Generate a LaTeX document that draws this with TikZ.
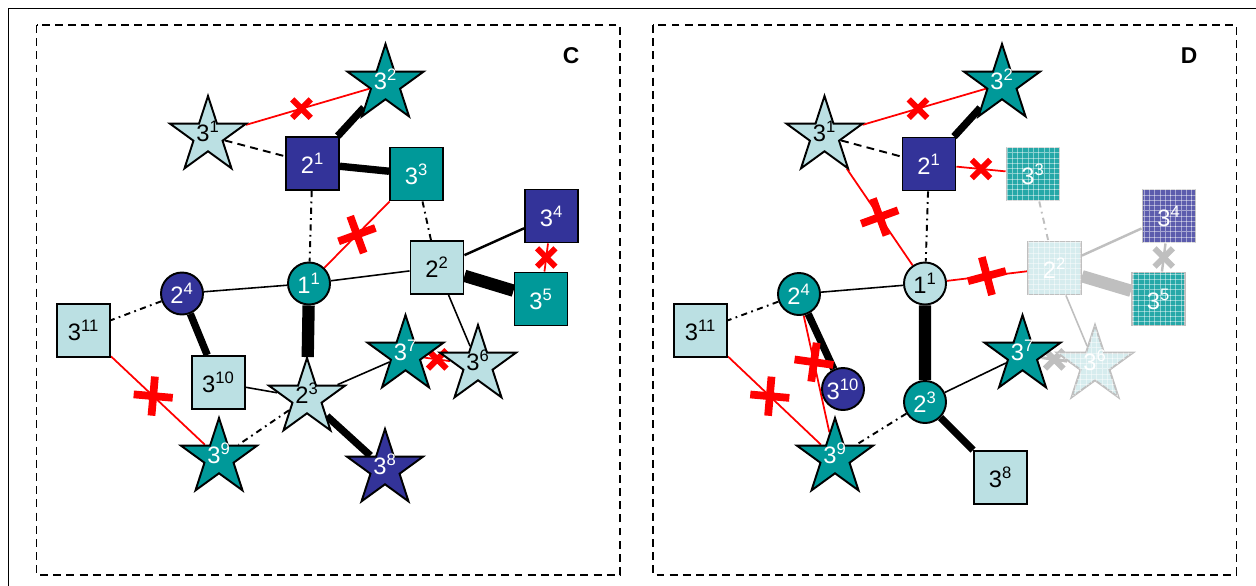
\documentclass[tikz,border=0pt]{standalone}
\usepackage{fontspec}
\setsansfont{Liberation Sans}
\usetikzlibrary{shapes.geometric,shapes.misc,patterns,backgrounds}
\definecolor{tealc}{RGB}{0,153,153}
\definecolor{navyc}{RGB}{51,51,153}
\definecolor{palec}{RGB}{187,224,227}
\definecolor{greyc}{RGB}{191,191,191}
\newcommand{\nlab}[2]{#1\textsuperscript{#2}}
\newcommand{\slab}[2]{\makebox[0pt]{#1\textsuperscript{#2}}}

\begin{document}
\begin{tikzpicture}[scale=0.2,
  every node/.append style={font=\sffamily\fontsize{13.5}{15}\selectfont},
  sq/.style={rectangle, draw, line width=1.1pt, minimum size=1.06cm},
  rnd/.style={circle, draw, line width=1.1pt, minimum size=0.84cm},
  st/.style={star, star points=5, star point ratio=2.618, draw, line width=1.1pt, minimum size=1.6cm, text height=1.5ex, text depth=0pt},
  tl/.style={fill=tealc, text=white},
  nv/.style={fill=navyc, text=white},
  pl/.style={fill=palec, text=black},
  gone/.style={fill=#1, draw=greyc, text=white, postaction={pattern=grid, pattern color=white, opacity=.45}},
  ln/.style={line width=0.9pt},
  mid/.style={line width=1.4pt},
  thk/.style={line width=4.2pt},
  vthk/.style={line width=7pt},
  dsh/.style={line width=1.1pt, dash pattern=on 4.5pt off 3pt},
  dd/.style={line width=1.1pt, dash pattern=on 3.5pt off 2.5pt on 1pt off 2.5pt},
  rd/.style={red, line width=1pt},
  gr/.style={greyc},
  xmk/.style={cross out, draw=#1, line width=3.4pt, minimum size=0.25cm},
  xmk/.default=red,
  pmk/.style={cross out, draw=red, line width=4.4pt, minimum size=0.4cm, rotate=45+#1},
  pmk/.default=0]
\tikzstyle{every node}+=[inner sep=0pt]
\useasboundingbox (0,0) rectangle (125.6,-58.5);
\clip (0,0) rectangle (125.6,-58.5);
\draw [line width=1.1pt] (0.85,-62) |- (130,-0.85);
\draw [line width=1.1pt, dash pattern=on 4.5pt off 3pt] (3.65,-2.5) rectangle (62,-57.5);
\draw [line width=1.1pt, dash pattern=on 4.5pt off 3pt] (65.3,-2.5) rectangle (123.65,-57.5);
\node [font=\sffamily\bfseries\fontsize{13}{15}\selectfont] (labC) at (57.1,-5.6) {C};
\node [font=\sffamily\bfseries\fontsize{13}{15}\selectfont] (labD) at (118.9,-5.6) {D};

\node [st, pl] (c31) at (20.8,-13.6) {\slab31};
\node [st, tl] (c32) at (38.55,-8.4) {\slab32};
\node [sq, nv] (c21) at (31.25,-16.35) {\nlab21};
\node [sq, tl] (c33) at (41.65,-17.4) {\nlab33};
\node [sq, nv] (c34) at (55.15,-21.6) {\nlab34};
\node [sq, pl] (c22) at (43.7,-26.75) {\nlab22};
\node [sq, tl] (c35) at (54.1,-29.9) {\nlab35};
\node [rnd, tl] (c11) at (30.9,-28.35) {\nlab11};
\node [rnd, nv] (c24) at (18.2,-29.35) {\nlab24};
\node [sq, pl] (c311) at (8.35,-33.05) {\nlab3{11}};
\node [sq, pl] (c310) at (21.85,-38.25) {\nlab3{10}};
\node [st, pl] (c23) at (30.7,-39.8) {\slab23};
\node [st, tl] (c37) at (40.55,-35.5) {\slab37};
\node [st, pl] (c36) at (47.8,-36.5) {\slab36};
\node [st, tl] (c39) at (21.9,-45.8) {\slab39};
\node [st, nv] (c38) at (38.5,-46.9) {\slab38};

\node [st, pl] (d31) at (82.45,-13.6) {\slab31};
\node [st, tl] (d32) at (100.2,-8.4) {\slab32};
\node [sq, nv] (d21) at (92.9,-16.4) {\nlab21};
\node [sq, gone=tealc!85!white] (d33) at (103.3,-17.4) {\nlab33};
\node [sq, gone=navyc!80!white] (d34) at (116.9,-21.6) {\nlab34};
\node [sq, gone=palec!60!white] (d22) at (105.45,-26.8) {\nlab22};
\node [sq, gone=tealc!85!white] (d35) at (115.85,-29.9) {\nlab35};
\node [rnd, pl] (d11) at (92.5,-28.35) {\nlab11};
\node [rnd, tl] (d24) at (79.9,-29.4) {\nlab24};
\node [sq, pl] (d311) at (70.05,-33.05) {\nlab3{11}};
\node [rnd, nv] (d310) at (84.3,-38.9) {\nlab3{10}};
\node [rnd, tl] (d23) at (92.5,-40.2) {\nlab23};
\node [st, tl] (d37) at (102.25,-35.5) {\slab37};
\node [st, gone=palec!60!white] (d36) at (109.5,-36.5) {\slab36};
\node [st, tl] (d39) at (83.5,-45.8) {\slab39};
\node [sq, pl] (d38) at (100.05,-47.75) {\nlab38};

\begin{scope}[on background layer]
\draw [rd] (c31) -- node [xmk, pos=.45] {} (c32);
\draw [dsh] (c31) -- (c21);
\draw [thk] (c21) -- (c32);
\draw [thk] (c21) -- (c33);
\draw [dd] (c21) -- (c11);
\draw [rd] (c33) -- node [pmk=20] {} (c11);
\draw [dd] (c33) -- (c22);
\draw [ln] (c22) -- (c11);
\draw [mid] (c22) -- (c34);
\draw [vthk] (c22) -- (c35);
\draw [rd] (c34) -- node [xmk] {} (c35);
\draw [ln] (c22) -- (c36);
\draw [rd] (c37) -- node [xmk] {} (c36);
\draw [ln] (c11) -- (c24);
\draw [vthk] (c11) -- (c23);
\draw [thk] (c24) -- (c310);
\draw [dd] (c24) -- (c311);
\draw [ln] (c310) -- (c23);
\draw [ln] (c23) -- (c37);
\draw [thk] (c23) -- (c38);
\draw [dd] (c23) -- (c39);
\draw [rd] (c311) -- node [pmk=-5, pos=.45] {} (c39);

\draw [rd] (d31) -- node [xmk, pos=.45] {} (d32);
\draw [dsh] (d31) -- (d21);
\draw [thk] (d21) -- (d32);
\draw [rd] (d21) -- node [xmk] {} (d33);
\draw [rd] (d31) -- node [pmk=20] {} (d11);
\draw [dd] (d21) -- (d11);
\draw [gr, dd] (d33) -- (d22);
\draw [rd] (d11) -- node [pmk=15] {} (d22);
\draw [gr, mid] (d22) -- (d34);
\draw [gr, vthk] (d22) -- (d35);
\draw [gr, mid] (d34) -- node [xmk=greyc] {} (d35);
\draw [gr, ln] (d22) -- (d36);
\draw [gr, line width=1.7pt] (d37) -- node [xmk=greyc] {} (d36);
\draw [ln] (d24) -- (d11);
\draw [thk] (d24) -- (d310);
\draw [dd] (d24) -- (d311);
\draw [rd] (d24) -- node [pmk=-8, pos=.4] {} (d39);
\draw [rd] (d311) -- node [pmk=-5, pos=.45] {} (d39);
\draw [vthk] (d11) -- (d23);
\draw [ln] (d23) -- (d37);
\draw [thk] (d23) -- (d38);
\draw [dd] (d23) -- (d39);
\end{scope}
\end{tikzpicture}
\end{document}
